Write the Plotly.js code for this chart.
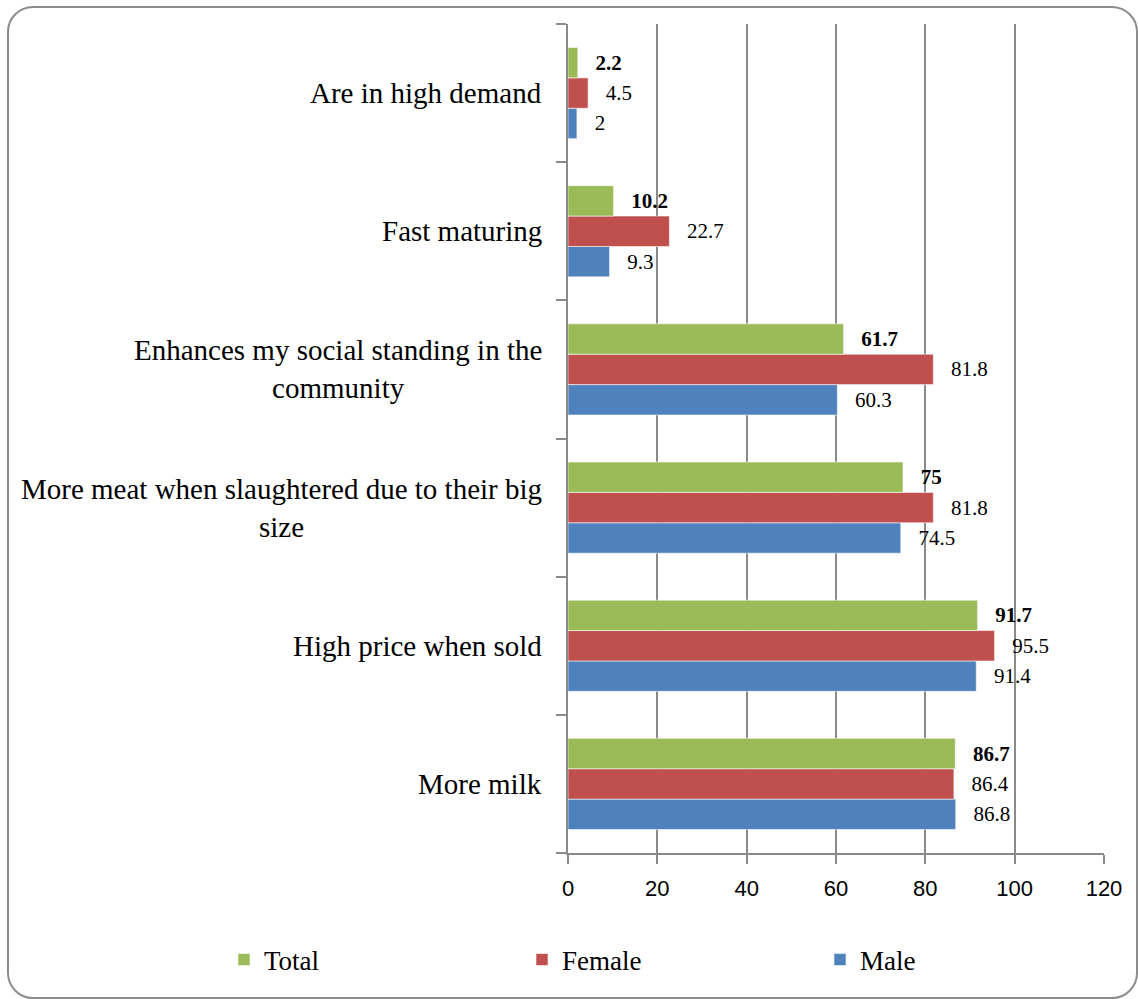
<!DOCTYPE html>
<html>
<head>
<meta charset="utf-8">
<script src="https://cdn.plot.ly/plotly-3.0.1.min.js"></script>
<style>
  html, body { margin: 0; padding: 0; background: #fff; }
  #wrap { position: relative; width: 1138px; height: 999px; }
  #chart { position: absolute; left: 0; top: 0; width: 1138px; height: 999px; }
  #frame { position: absolute; left: 7px; top: 6px; width: 1127px; height: 989px;
           border: 2px solid #8c8c8c; border-radius: 26px; pointer-events: none; }
</style>
</head>
<body>
<div id="wrap">
  <div id="chart"></div>
  <div id="frame"></div>
</div>
<script>
// Categories listed bottom to top
const categories = [
  "More milk",
  "High price when sold",
  "More meat when slaughtered due to their big<br>size",
  "Enhances my social standing in the<br>community",
  "Fast maturing",
  "Are in high demand"
];
const maleValues   = [86.8, 91.4, 74.5, 60.3, 9.3, 2];
const femaleValues = [86.4, 95.5, 81.8, 81.8, 22.7, 4.5];
const totalValues  = [86.7, 91.7, 75, 61.7, 10.2, 2.2];
const seriesNames  = ["Male", "Female", "Total"];
const xTicks = [0, 20, 40, 60, 80, 100, 120];

const SERIF = "'Liberation Serif', 'Times New Roman', Times, serif";
const SANS = "'Liberation Sans', Arial, sans-serif";
const colors = { Male: "#4F81BD", Female: "#C0504D", Total: "#9BBB59" };
const pad = "\u00a0\u00a0\u2009";

function makeTrace(name, vals, bold) {
  return {
    type: "bar",
    orientation: "h",
    name: name,
    y: categories,
    x: vals,
    text: vals.map(v => bold ? pad + "<b>" + v + "</b>" : pad + v),
    textposition: "outside",
    cliponaxis: false,
    textfont: { family: SERIF, size: 21, color: "#000" },
    marker: { color: colors[name], line: { color: "rgba(255,255,255,0.55)", width: 1 } },
    hoverinfo: "x+name"
  };
}

const data = [
  makeTrace("Male", maleValues, false),
  makeTrace("Female", femaleValues, false),
  makeTrace("Total", totalValues, true)
];

const annotations = categories.map(c => ({
  xref: "paper", yref: "y", x: 0, y: c,
  xanchor: "right", yanchor: "middle", xshift: -24,
  align: "center", showarrow: false, text: c,
  font: { family: SERIF, size: 29, color: "#000" }
}));

const M = { l: 568, r: 34, t: 24, b: 146 };
const plotW = 1138 - M.l - M.r, plotH = 999 - M.t - M.b;

const layout = {
  width: 1138, height: 999,
  margin: M,
  font: { family: SERIF, color: "#000" },
  paper_bgcolor: "#fff", plot_bgcolor: "#fff",
  barmode: "group", bargap: 0.34, bargroupgap: 0,
  showlegend: true,
  legend: {
    orientation: "h", traceorder: "reversed",
    x: (224 - M.l) / plotW, y: -(960 - (999 - M.b)) / plotH,
    xanchor: "left", yanchor: "middle",
    entrywidth: 253, entrywidthmode: "pixels", itemwidth: 30,
    font: { family: SERIF, size: 27, color: "#000" },
    bgcolor: "rgba(0,0,0,0)"
  },
  xaxis: {
    range: [0, 120], tickvals: xTicks, ticktext: xTicks.map(String),
    showgrid: true, gridcolor: "#8a8a8a", gridwidth: 2,
    showline: true, linecolor: "#8a8a8a", linewidth: 2,
    ticks: "outside", ticklen: 9, tickcolor: "#8a8a8a", tickwidth: 2,
    ticklabelstandoff: 6,
    zeroline: false, fixedrange: true,
    tickfont: { family: SANS, size: 22, color: "#000" }
  },
  yaxis: {
    type: "category", categoryorder: "array", categoryarray: categories,
    showticklabels: false, tickson: "boundaries",
    ticks: "outside", ticklen: 10, tickcolor: "#8a8a8a", tickwidth: 2,
    showline: true, linecolor: "#8a8a8a", linewidth: 2,
    showgrid: false, zeroline: false, fixedrange: true
  },
  annotations: annotations
};

Plotly.newPlot("chart", data, layout, { displayModeBar: false, staticPlot: true });
</script>
</body>
</html>
